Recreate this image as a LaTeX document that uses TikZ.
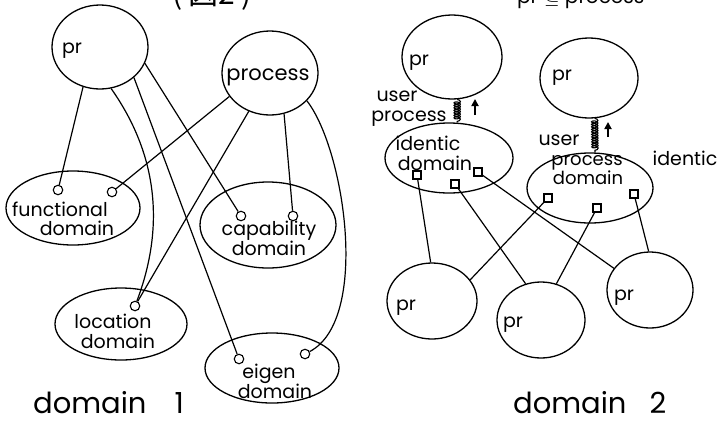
\documentclass[tikz,border=0pt]{standalone}
\usepackage{fontspec}
\setmainfont{Poppins}
\newfontfamily\cjk{Noto Sans CJK JP}
\usetikzlibrary{shapes.geometric,decorations.pathmorphing,arrows.meta}
\begin{document}
\begin{tikzpicture}[x=1pt,y=-1pt,
  oval/.style={draw,ellipse,inner sep=0pt,line width=1.3pt},
  port/.style={draw,circle,fill=white,inner sep=0pt,minimum size=9.5pt,line width=1.1pt},
  sq/.style={draw,rectangle,fill=white,inner sep=0pt,minimum size=8pt,line width=1.1pt},
  conn/.style={line width=1.2pt},
  txt/.style={font=\fontsize{19}{19}\selectfont,inner sep=0pt,anchor=base},
  bigtxt/.style={font=\fontsize{29}{29}\selectfont,inner sep=0pt,anchor=base west},
  spring/.style={line width=1.1pt,decorate,decoration={coil,amplitude=3.2pt,segment length=2.5pt,aspect=0.5}},
  uparrow/.style={line width=1.8pt,-{Triangle[width=7pt,length=7pt]}}]
\useasboundingbox (0,0) rectangle (717,421);
\clip (0,0) rectangle (717,421);
\fill[white] (0,0) rectangle (717,421);

% cut-off titles
\node[font=\cjk\fontsize{30}{30}\selectfont,inner sep=0pt,anchor=base] (title1) at (212,4) {(\hspace{6pt}図2\hspace{6pt})};
\node[txt,font=\fontsize{20}{20}\selectfont,anchor=base west] (title2) at (517,3) {pr $\subseteq$ process};

% ---------------- domain 1 ----------------
\node[oval,minimum width=96pt,minimum height=84pt] (prL) at (100,47) {};
\node[oval,minimum width=96pt,minimum height=84pt] (procL) at (270,73) {};
\node[oval,minimum width=134pt,minimum height=74pt] (funcD) at (73,208) {};
\node[oval,minimum width=136pt,minimum height=86pt] (capD) at (268,225) {};
\node[oval,minimum width=132pt,minimum height=72pt] (locD) at (121,324) {};
\node[oval,minimum width=134pt,minimum height=70pt] (eigD) at (272,368) {};

\node[txt] (tprL) at (72,53) {pr};
\node[txt,font=\fontsize{21}{21}\selectfont] (tprocL) at (268,80) {process};
\node[txt] (tf1) at (60,216) {functional};
\node[txt] (tf2) at (77,235) {domain};
\node[txt] (tc1) at (269,235) {capability};
\node[txt] (tc2) at (269,255) {domain};
\node[txt] (tl1) at (113,328) {location};
\node[txt] (tl2) at (118,348) {domain};
\node[txt] (te1) at (269,378) {eigen};
\node[txt] (te2) at (275,398) {domain};
\node[bigtxt] (d1) at (33,413) {domain\hspace{28pt}1};

\node[port] (fp1) at (58,190) {};
\node[port] (fp2) at (112,192) {};
\node[port] (cp1) at (241,216) {};
\node[port] (cp2) at (293,216) {};
\node[port] (lp1) at (135,306) {};
\node[port] (ep1) at (239,359) {};
\node[port] (ep2) at (305,354) {};

\draw[conn] (prL.247) -- (fp1);
\draw[conn] (prL.285) .. controls (165,165) and (160,240) .. (lp1);
\draw[conn] (prL.318) -- (ep1);
\draw[conn] (prL.340) -- (cp1);
\draw[conn] (procL.210) -- (fp2);
\draw[conn] (procL.241) -- (lp1);
\draw[conn] (procL.289) -- (cp2);
\draw[conn] (procL.323) .. controls (345,150) and (370,320) .. (ep2);

% ---------------- domain 2 ----------------
\node[oval,minimum width=100pt,minimum height=84pt] (prR1) at (452,57) {};
\node[oval,minimum width=98pt,minimum height=80pt] (prR2) at (589,78) {};
\node[oval,minimum width=128pt,minimum height=70pt] (idD) at (449,158) {};
\node[oval,minimum width=126pt,minimum height=70pt] (pdD) at (590,188) {};
\node[oval,minimum width=90pt,minimum height=76pt] (prA) at (432,301) {};
\node[oval,minimum width=88pt,minimum height=76pt] (prB) at (541,320) {};
\node[oval,minimum width=86pt,minimum height=76pt] (prC) at (650,290) {};

\node[txt] (tprR1) at (419,65) {pr};
\node[txt] (tprR2) at (562,80) {pr};
\node[txt] (tu1) at (397,101) {user};
\node[txt] (tup1) at (409,121) {process};
\node[txt] (ti1) at (428,150) {identic};
\node[txt] (ti2) at (435,170) {domain};
\node[txt] (tu2) at (559,145) {user};
\node[txt,font=\fontsize{18}{18}\selectfont] (tp1) at (587,165) {process};
\node[txt,font=\fontsize{18}{18}\selectfont] (tp2) at (588,184) {domain};
\node[txt] (tid) at (685,165) {identic};
\node[txt] (tprA) at (406,310) {pr};
\node[txt] (tprB) at (513,327) {pr};
\node[txt] (tprC) at (624,300) {pr};
\node[bigtxt] (d2) at (513,413) {domain\hspace{23pt}2};

\node[sq] (is1) at (417,175) {};
\node[sq] (is2) at (455,184) {};
\node[sq] (is3) at (478,172) {};
\node[sq] (ps1) at (548,198) {};
\node[sq] (ps2) at (597,208) {};
\node[sq] (ps3) at (634,194) {};

\draw[conn] (is1) -- (prA.92);
\draw[conn] (is2) -- (prB.113);
\draw[conn] (is3) -- (prC.149);
\draw[conn] (ps1) -- (prA.29);
\draw[conn] (ps2) -- (prB.67);
\draw[conn] (ps3) -- (prC.92);

\draw[spring] (prR1.277) -- (idD.77);
\draw[spring] (prR2.278) -- (pdD.82);
\coordinate (a1s) at (475,115);
\coordinate (a1e) at (475,99);
\coordinate (a2s) at (608,137);
\coordinate (a2e) at (608,122);
\draw[uparrow] (a1s) -- (a1e);
\draw[uparrow] (a2s) -- (a2e);
\end{tikzpicture}
\end{document}
